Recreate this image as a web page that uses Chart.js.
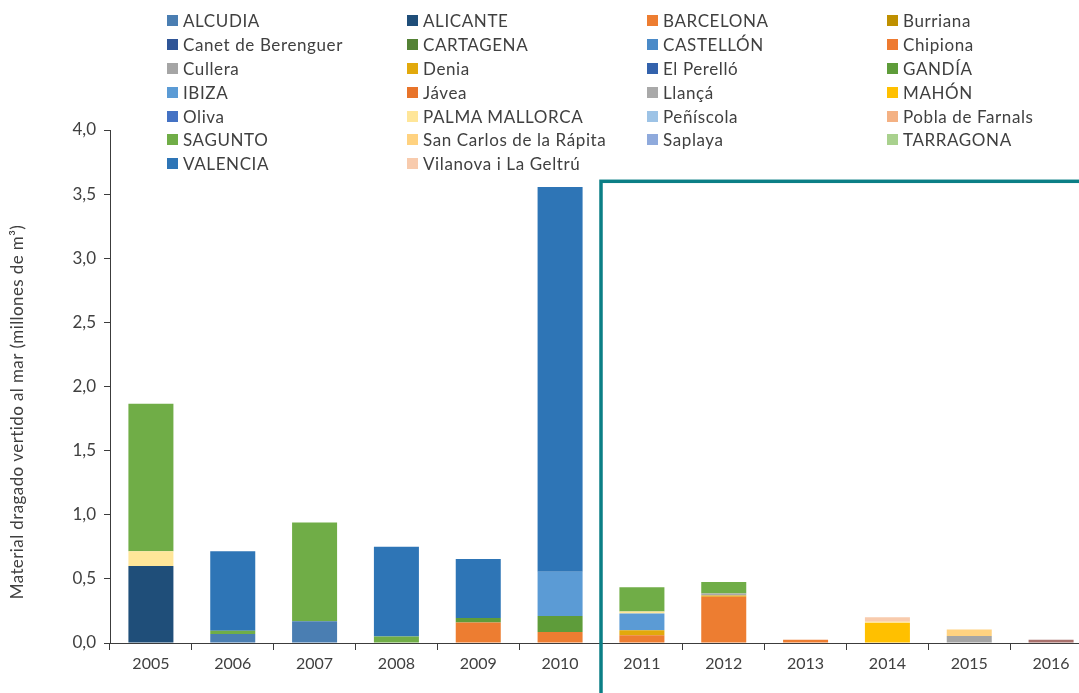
<!DOCTYPE html>
<html>
<head>
<meta charset="utf-8">
<script src="https://cdn.jsdelivr.net/npm/chart.js@4.4.1/dist/chart.umd.min.js"></script>
<style>
html, body { margin: 0; padding: 0; background: #fff; overflow: hidden; }
#wrap { position: relative; width: 1094px; height: 693px; }
#legend {
    position: absolute; left: 167px; top: 9px;
    display: grid; grid-template-columns: repeat(4, 240px); grid-auto-rows: 23.8px;
    font-family: Lato, sans-serif; font-size: 17px; letter-spacing: 0.6px; color: #404040;
}
.item { display: flex; align-items: center; white-space: nowrap; }
.box { width: 11px; height: 11px; margin-right: 5px; flex: none; }
</style>
</head>
<body>
<div id="wrap">
    <canvas id="chart" width="1094" height="693"></canvas>
    <div id="legend"></div>
</div>
<script>
// Años
const years = ['2005', '2006', '2007', '2008', '2009', '2010', '2011', '2012', '2013', '2014', '2015', '2016'];

// Material vertido por puerto (millones de m3), 2005 -> 2016
const alcudia    = [0, 0.07, 0.17, 0, 0, 0, 0, 0, 0, 0, 0, 0];
const alicante   = [0.60, 0, 0, 0, 0, 0, 0, 0, 0, 0, 0, 0];
const barcelona  = [0, 0, 0, 0, 0.16, 0.085, 0.06, 0.36, 0.025, 0, 0, 0];
const burriana   = [0, 0, 0, 0, 0, 0, 0, 0, 0, 0, 0, 0];
const canet      = [0, 0, 0, 0, 0, 0, 0, 0, 0, 0, 0, 0];
const cartagena  = [0, 0, 0, 0, 0, 0, 0, 0, 0, 0, 0, 0];
const castellon  = [0, 0, 0, 0, 0, 0, 0, 0, 0, 0, 0, 0];
const chipiona   = [0, 0, 0, 0, 0, 0, 0, 0, 0, 0, 0, 0];
const cullera    = [0, 0, 0, 0, 0, 0, 0, 0, 0, 0, 0.055, 0];
const denia      = [0, 0, 0, 0, 0, 0, 0.04, 0.01, 0, 0, 0, 0];
const perello    = [0, 0, 0, 0, 0, 0, 0, 0, 0, 0, 0, 0];
const gandia     = [0, 0, 0, 0, 0.035, 0.125, 0, 0, 0, 0, 0, 0];
const ibiza      = [0, 0, 0, 0, 0, 0.345, 0.13, 0, 0, 0, 0, 0];
const javea      = [0, 0, 0, 0, 0, 0, 0, 0, 0, 0, 0, 0];
const llanca     = [0, 0, 0, 0, 0, 0, 0, 0.015, 0, 0, 0, 0];
const mahon      = [0, 0, 0, 0, 0, 0, 0, 0, 0, 0.155, 0, 0];
const oliva      = [0, 0, 0, 0, 0, 0, 0, 0, 0, 0, 0, 0];
const palma      = [0.115, 0, 0, 0, 0, 0, 0.015, 0, 0, 0.01, 0, 0];
const peniscola  = [0, 0, 0, 0, 0, 0, 0, 0, 0, 0, 0, 0];
const pobla      = [0, 0, 0, 0, 0, 0, 0, 0, 0, 0, 0, 0.025];
const sagunto    = [1.15, 0.025, 0.77, 0.05, 0, 0, 0.19, 0.09, 0, 0, 0, 0];
const sanCarlos  = [0, 0, 0, 0, 0, 0, 0, 0, 0, 0, 0.05, 0];
const saplaya    = [0, 0, 0, 0, 0, 0, 0, 0, 0, 0, 0, 0];
const tarragona  = [0, 0, 0, 0, 0, 0, 0, 0, 0, 0, 0, 0];
const valencia   = [0, 0.62, 0, 0.70, 0.46, 3.00, 0, 0, 0, 0, 0, 0];
const vilanova   = [0, 0, 0, 0, 0, 0, 0, 0, 0, 0.035, 0, 0];

// Ticks del eje Y
const yTicks = [0, 0.5, 1.0, 1.5, 2.0, 2.5, 3.0, 3.5, 4.0];

// Orden alfabético = orden de apilado (el primero abajo)
const series = [
    ['ALCUDIA', alcudia, '#4A7EB2'],
    ['ALICANTE', alicante, '#1F4E79'],
    ['BARCELONA', barcelona, '#ED7D31'],
    ['Burriana', burriana, '#BF9000'],
    ['Canet de Berenguer', canet, '#2F5597'],
    ['CARTAGENA', cartagena, '#548235'],
    ['CASTELLÓN', castellon, '#4A8AC8'],
    ['Chipiona', chipiona, '#EE7A30'],
    ['Cullera', cullera, '#A5A5A5'],
    ['Denia', denia, '#E2A90C'],
    ['El Perelló', perello, '#3362AC'],
    ['GANDÍA', gandia, '#5E9C3A'],
    ['IBIZA', ibiza, '#5B9BD5'],
    ['Jávea', javea, '#E8742A'],
    ['Llançá', llanca, '#A9A9A9'],
    ['MAHÓN', mahon, '#FFC000'],
    ['Oliva', oliva, '#4472C4'],
    ['PALMA MALLORCA', palma, '#FFE699'],
    ['Peñíscola', peniscola, '#9DC3E6'],
    ['Pobla de Farnals', pobla, '#F4B183'],
    ['SAGUNTO', sagunto, '#70AD47'],
    ['San Carlos de la Rápita', sanCarlos, '#FFD280'],
    ['Saplaya', saplaya, '#8FAADC'],
    ['TARRAGONA', tarragona, '#A9D18E'],
    ['VALENCIA', valencia, '#2E75B6'],
    ['Vilanova i La Geltrú', vilanova, '#F8CBAD']
];

const datasets = series.map(([label, data, color]) => ({
    label: label,
    data: data,
    backgroundColor: color,
    borderWidth: 0
}));
// la barra de 2016 sale marrón en la imagen
datasets[19].backgroundColor = years.map((y, i) => i === 11 ? '#A8706C' : '#F4B183');

// Leyenda en 4 columnas
const legendDiv = document.getElementById('legend');
series.forEach(([label, data, color]) => {
    const item = document.createElement('div');
    item.className = 'item';
    item.innerHTML = '<span class="box" style="background:' + color + '"></span>' + label;
    legendDiv.appendChild(item);
});

const fmt = v => v.toFixed(1).replace('.', ',');
const axisColor = '#3c3c3c';
const textColor = '#404040';

// Recuadro verde azulado y título del eje Y
const extras = {
    id: 'extras',
    afterDraw(chart) {
        const { ctx, scales: { x, y } } = chart;
        const left = (x.getPixelForTick(5) + x.getPixelForTick(6)) / 2;
        const top = y.getPixelForValue(3.6);
        ctx.save();
        ctx.strokeStyle = '#0B7F86';
        ctx.lineWidth = 3.5;
        ctx.strokeRect(left, top, chart.width, chart.height);
        ctx.translate(18, 412);
        ctx.rotate(-Math.PI / 2);
        ctx.fillStyle = textColor;
        ctx.font = '17px Lato';
        ctx.letterSpacing = '0.4px';
        ctx.textAlign = 'center';
        ctx.textBaseline = 'middle';
        ctx.fillText('Material dragado vertido al mar (millones de m³)', 0, 0);
        ctx.restore();
    }
};

Chart.defaults.font.family = 'Lato';
Chart.defaults.color = textColor;

new Chart(document.getElementById('chart'), {
    type: 'bar',
    data: { labels: years, datasets: datasets },
    options: {
        responsive: false,
        animation: false,
        devicePixelRatio: 1,
        layout: { padding: { top: 130, right: 2, bottom: 0, left: 0 } },
        plugins: { legend: { display: false }, tooltip: { enabled: false } },
        datasets: { bar: { categoryPercentage: 1, barPercentage: 0.55 } },
        scales: {
            x: {
                stacked: true,
                grid: { offset: true, drawOnChartArea: false, drawTicks: true, tickLength: 7, color: axisColor },
                border: { color: axisColor, width: 1 },
                ticks: { font: { size: 16 }, padding: 4, color: textColor },
                afterFit: s => { s.height = 50; }
            },
            y: {
                stacked: true,
                min: 0,
                max: 4,
                afterBuildTicks: s => { s.ticks = yTicks.map(v => ({ value: v })); },
                grid: { drawOnChartArea: false, drawTicks: true, tickLength: 6, color: axisColor },
                border: { color: axisColor, width: 1 },
                ticks: { font: { size: 17 }, padding: 8, color: textColor, callback: v => fmt(v) },
                afterFit: s => { s.width = 110; }
            }
        }
    },
    plugins: [extras]
});
</script>
</body>
</html>
